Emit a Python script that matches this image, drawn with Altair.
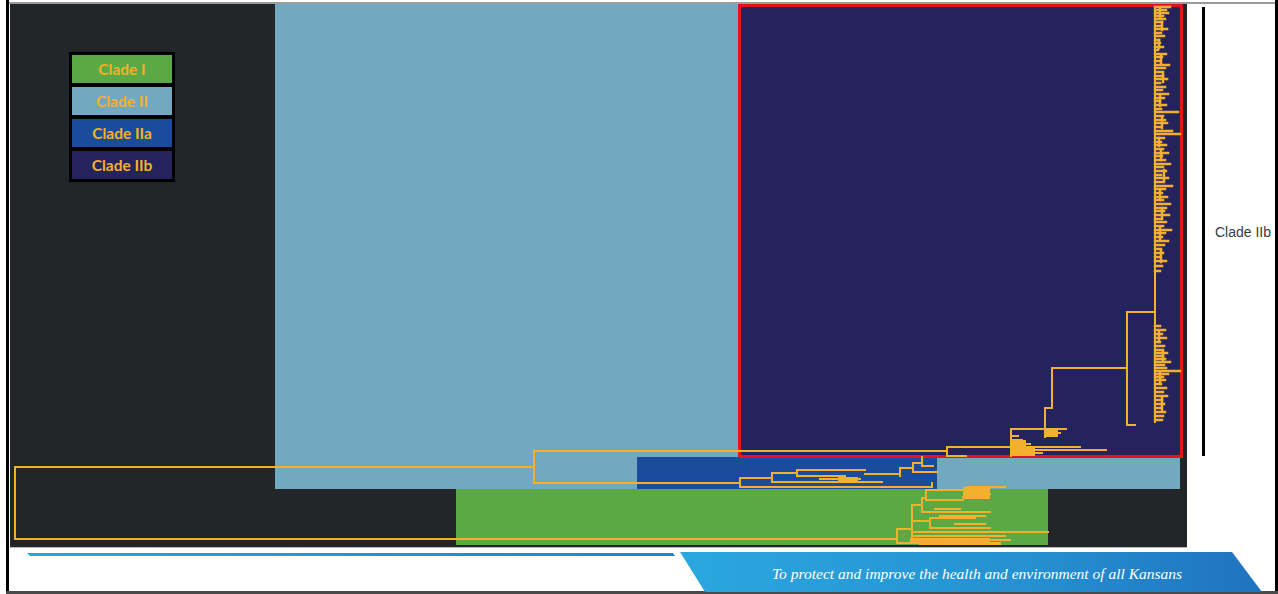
import altair as alt
import pandas as pd

W, H = 1278, 594

# ---- background blocks: (x, x2, y, y2, fill) ----
blocks = [
    (7, 1278, 2, 4, "#9c9c9c"),
    (6, 9, 0, 594, "#000000"),
    (1275, 1278, 0, 594, "#000000"),
    (6, 1278, 591, 594, "#4a4a4a"),
    (10, 1187, 4, 547, "#232629"),
    (10, 1187, 547, 548, "#b8b8b8"),
    (275, 1180, 4, 489, "#72a8c0"),
    (738, 1182, 4, 457, "#24235d"),
    (637, 937, 457, 489, "#1b4b9b"),
    (456, 1048, 489, 545, "#5aa945"),
    (1202, 1205, 7, 456, "#000000"),
]

# ---- legend ----
legend_labels = ["Clade I", "Clade II", "Clade IIa", "Clade IIb"]
legend_fills = ["#5aa945", "#72a8c0", "#1b4b9b", "#24235d"]
legend_top = [55, 87, 119, 151]
legend_bottom = [83, 115, 147, 179]

# ---- red frame around Clade IIb ----
frame = [(739.5, 1181.5, 5.5, 456.5)]

# ---- tree branches: (x1, y1, x2, y2) ----
branches = [
    # root
    (15, 467, 15, 539), (15, 467, 534, 467), (15, 539, 897, 539),
    # clade II node
    (534, 451, 534, 483), (534, 451, 947, 451), (534, 483, 740, 483),
    # clade IIb backbone
    (947, 447, 947, 456), (947, 456, 966, 456), (947, 447, 1011, 447),
    (1011, 429, 1011, 456), (1011, 450, 1106, 450), (1011, 453, 1042, 453),
    (1011, 444, 1030, 444), (1011, 440, 1022, 440), (1011, 436, 1018, 436),
    (1014, 447, 1080, 447), (1011, 429, 1066, 429),
    (1045, 408, 1045, 437), (1045, 433, 1060, 433), (1045, 436, 1056, 436),
    (1045, 408, 1052, 408), (1052, 368, 1052, 408), (1052, 368, 1127, 368),
    (1127, 312, 1127, 425), (1127, 425, 1135, 425), (1127, 312, 1155, 312),
    (1155, 7, 1155, 422),
    # clade IIa
    (740, 478, 740, 487), (740, 487, 932, 487), (932, 483, 932, 487),
    (740, 478, 772, 478), (772, 473, 772, 482), (772, 482, 882, 482),
    (772, 473, 797, 473), (797, 470, 797, 476), (797, 470, 865, 470),
    (797, 476, 845, 476), (820, 479, 860, 479), (865, 474, 900, 474),
    (900, 468, 900, 476), (900, 468, 913, 468), (913, 463, 913, 472),
    (913, 472, 937, 472), (913, 463, 922, 463), (922, 457, 922, 466),
    (922, 466, 933, 466),
    # clade I
    (897, 529, 897, 543), (897, 529, 912, 529), (897, 543, 1000, 543),
    (912, 505, 912, 540), (912, 505, 922, 505), (922, 498, 922, 512),
    (922, 498, 926, 498), (926, 490, 926, 500), (926, 490, 972, 490),
    (968, 487, 1005, 487), (966, 494, 990, 494), (926, 500, 963, 500),
    (963, 497, 985, 497), (922, 512, 990, 512), (935, 509, 960, 509),
    (940, 516, 985, 516), (912, 521, 930, 521), (930, 518, 930, 528),
    (930, 518, 975, 518), (912, 532, 1048, 532), (930, 528, 990, 528),
    (955, 524, 985, 524), (912, 536, 1005, 536), (912, 540, 1010, 540),
    (920, 544, 1000, 544),
]

# small sub-clade connectors inside the Clade IIb comb: (x, y1, y2)
subclade_x = [1160, 1162, 1159, 1161, 1163, 1160, 1162, 1159, 1161, 1164, 1160,
              1162, 1160, 1161, 1159, 1163, 1160, 1162]
subclade_y1 = [8, 22, 40, 55, 72, 96, 118, 138, 150, 170, 190, 208, 228, 250,
               332, 350, 372, 398]
subclade_y2 = [18, 30, 48, 64, 82, 106, 128, 146, 160, 180, 200, 218, 240, 262,
               342, 360, 384, 410]

# dense tip clusters: (x, x2, y, y2)
clusters = [
    (1011, 1035, 446, 456), (1011, 1026, 440, 446), (1045, 1058, 430, 437),
    (838, 858, 477, 482), (963, 990, 487, 499), (910, 990, 538, 544),
]

# ---- Clade IIb comb of tips off the spine at x=1155 ----
upper_tip_y = [7, 10, 13, 16, 19, 22, 26, 29, 33, 36, 40, 43, 47, 50, 54, 57, 61,
               65, 68, 72, 76, 79, 83, 87, 90, 94, 98, 101, 105, 109, 112, 116,
               120, 123, 127, 131, 134, 138, 142, 145, 149, 153, 156, 160, 164,
               167, 171, 175, 178, 182, 186, 189, 193, 197, 200, 204, 208, 211,
               215, 219, 222, 226, 230, 233, 237, 241, 245, 249, 253, 257, 261,
               266, 271]
upper_tip_end = [1170, 1166, 1168, 1163, 1165, 1162, 1160, 1167, 1161, 1164, 1159,
                 1160, 1163, 1158, 1166, 1162, 1160, 1169, 1165, 1161, 1163, 1167,
                 1160, 1165, 1162, 1168, 1164, 1160, 1166, 1161, 1178, 1163, 1165,
                 1167, 1160, 1172, 1180, 1164, 1161, 1166, 1163, 1168, 1162, 1165,
                 1170, 1163, 1166, 1161, 1168, 1164, 1172, 1165, 1162, 1167, 1163,
                 1170, 1166, 1164, 1169, 1162, 1166, 1163, 1171, 1165, 1162, 1168,
                 1164, 1161, 1163, 1160, 1166, 1162, 1160]
lower_tip_y = [326, 330, 334, 338, 342, 346, 350, 353, 356, 359, 362, 365, 368,
               371, 374, 377, 380, 384, 388, 392, 396, 400, 404, 408, 412, 416, 420]
lower_tip_end = [1160, 1165, 1162, 1166, 1160, 1164, 1162, 1167, 1163, 1165, 1170,
                 1164, 1166, 1180, 1168, 1163, 1165, 1161, 1166, 1163, 1167, 1162,
                 1164, 1160, 1165, 1163, 1162]

clade_label = "Clade IIb"
footer_text = "To protect and improve the health and environment of all Kansans"

# ---- footer shapes (horizontal areas) ----
banner_y = [552, 592]
banner_x = [680, 705]
banner_x2 = [1232, 1262]
stripe_y = [553, 556]
stripe_x = [27, 30]
stripe_x2 = [673, 675]

# ================= build =================
xs = alt.Scale(domain=[0, W], nice=False, zero=False)
ys = alt.Scale(domain=[0, H], nice=False, zero=False, reverse=True)

def X(f, **k):
    return alt.X(f, type="quantitative", scale=xs, axis=None, **k)

def Y(f, **k):
    return alt.Y(f, type="quantitative", scale=ys, axis=None, **k)

blocks_df = pd.DataFrame(blocks, columns=["x", "x2", "y", "y2", "fill"])
layer_blocks = alt.Chart(blocks_df).mark_rect().encode(
    x=X("x"), x2="x2", y=Y("y"), y2="y2", color=alt.Color("fill:N", scale=None)
)

leg_df = pd.DataFrame({
    "label": legend_labels, "fill": legend_fills,
    "y": legend_top, "y2": legend_bottom,
})
leg_df["x"] = 72
leg_df["x2"] = 172
leg_df["ym"] = (leg_df["y"] + leg_df["y2"]) / 2 + 0.5
leg_df["xm"] = 122
leg_box = alt.Chart(pd.DataFrame({"x": [69], "x2": [175], "y": [52], "y2": [182]})).mark_rect(
    color="#000000").encode(x=X("x"), x2="x2", y=Y("y"), y2="y2")
leg_cells = alt.Chart(leg_df).mark_rect().encode(
    x=X("x"), x2="x2", y=Y("y"), y2="y2", color=alt.Color("fill:N", scale=None))
leg_text = alt.Chart(leg_df).mark_text(
    font="Lato", fontWeight="bold", fontSize=15.5, color="#f4b028",
    align="center", baseline="middle").encode(x=X("xm"), y=Y("ym"), text="label:N")

frame_df = pd.DataFrame(frame, columns=["x", "x2", "y", "y2"])
layer_frame = alt.Chart(frame_df).mark_rect(
    filled=False, stroke="#e3141b", strokeWidth=3).encode(
    x=X("x"), x2="x2", y=Y("y"), y2="y2")

seg_df = pd.DataFrame(branches, columns=["x", "y", "x2", "y2"])
layer_tree = alt.Chart(seg_df).mark_rule(
    color="#f2b02e", strokeWidth=2, strokeCap="square").encode(
    x=X("x"), x2="x2", y=Y("y"), y2="y2")

tip_rows = [(1155, y, e, y) for y, e in zip(upper_tip_y, upper_tip_end)]
tip_rows += [(1155, y, e, y) for y, e in zip(lower_tip_y, lower_tip_end)]
tip_rows += [(x, a, x, b) for x, a, b in zip(subclade_x, subclade_y1, subclade_y2)]
tip_df = pd.DataFrame(tip_rows, columns=["x", "y", "x2", "y2"])
layer_tips = alt.Chart(tip_df).mark_rule(
    color="#f2b02e", strokeWidth=2.5, strokeCap="square").encode(
    x=X("x"), x2="x2", y=Y("y"), y2="y2")

cl_df = pd.DataFrame(clusters, columns=["x", "x2", "y", "y2"])
layer_clusters = alt.Chart(cl_df).mark_rect(color="#f2b02e").encode(
    x=X("x"), x2="x2", y=Y("y"), y2="y2")

banner_df = pd.DataFrame({"y": banner_y, "x": banner_x, "x2": banner_x2})
layer_banner = alt.Chart(banner_df).mark_area(
    orient="horizontal",
    color=alt.Gradient(gradient="linear",
                       stops=[alt.GradientStop(color="#2ba7df", offset=0),
                              alt.GradientStop(color="#2590d2", offset=0.6),
                              alt.GradientStop(color="#1f73be", offset=1)],
                       x1=0, x2=1, y1=0, y2=0)).encode(
    y=Y("y"), x=X("x"), x2="x2")

stripe_df = pd.DataFrame({"y": stripe_y, "x": stripe_x, "x2": stripe_x2})
layer_stripe = alt.Chart(stripe_df).mark_area(
    orient="horizontal",
    color=alt.Gradient(gradient="linear",
                       stops=[alt.GradientStop(color="#2ba3dd", offset=0),
                              alt.GradientStop(color="#2185c8", offset=1)],
                       x1=0, x2=1, y1=0, y2=0)).encode(
    y=Y("y"), x=X("x"), x2="x2")

txt_df = pd.DataFrame({"t": [clade_label], "x": [1215], "y": [233]})
layer_label = alt.Chart(txt_df).mark_text(
    font="Liberation Sans", fontSize=14, color="#3a3a3a", align="left",
    baseline="middle").encode(x=X("x"), y=Y("y"), text="t:N")

foot_df = pd.DataFrame({"t": [footer_text], "x": [977], "y": [574]})
layer_foot = alt.Chart(foot_df).mark_text(
    font="Liberation Serif", fontStyle="italic", fontSize=15.5, color="#ffffff",
    align="center", baseline="middle").encode(x=X("x"), y=Y("y"), text="t:N")

chart = alt.layer(
    layer_blocks, layer_frame, layer_tree, layer_tips, layer_clusters,
    leg_box, leg_cells, leg_text,
    layer_stripe, layer_banner, layer_label, layer_foot,
).properties(
    width=W, height=H, padding=0, background="#ffffff",
    autosize=alt.AutoSizeParams(type="none"),
).configure_view(stroke=None)

chart.save("out.html", embed_options={"renderer": "svg", "actions": False})
